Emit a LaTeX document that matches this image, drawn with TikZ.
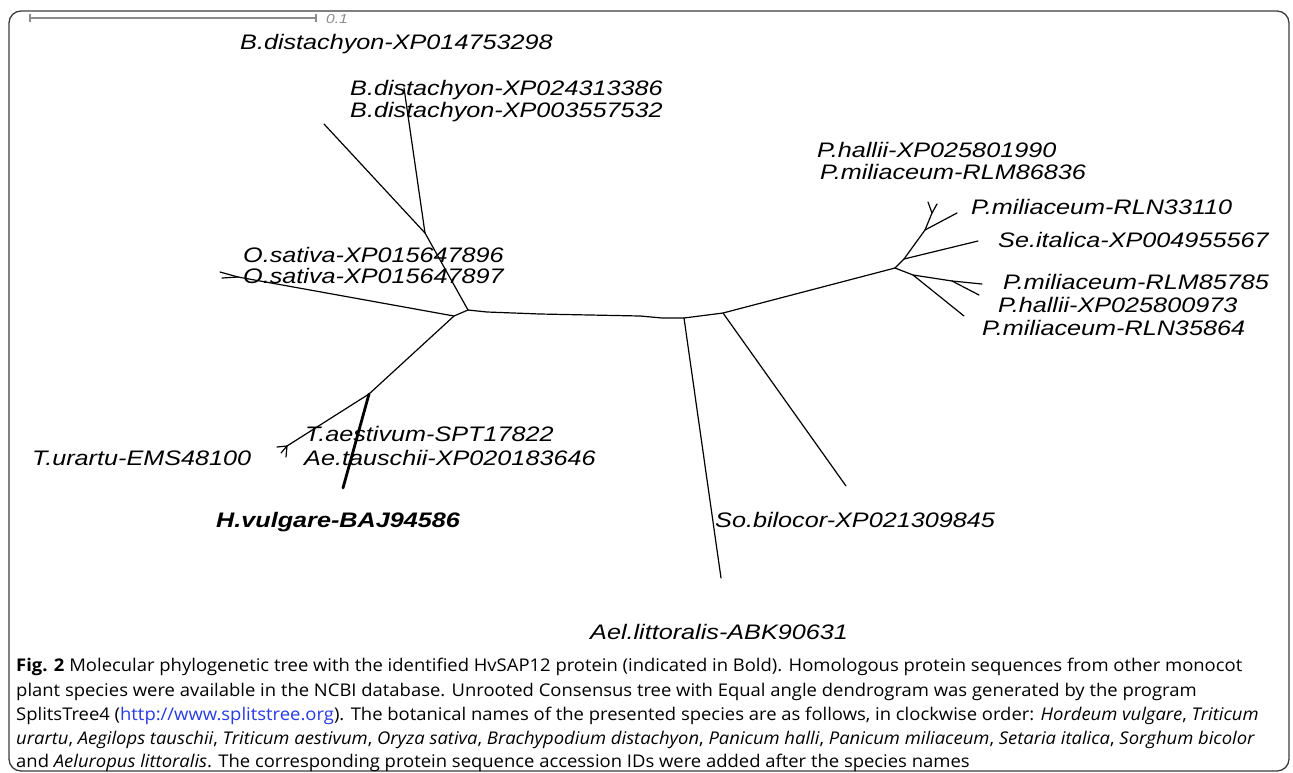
\documentclass[tikz,border=0pt]{standalone}
\usepackage{fontspec}
\usepackage{graphicx}
\setmainfont{Open Sans}
\newfontfamily\treefont[FakeStretch=1.2]{Liberation Sans}
\newfontfamily\capfont{Open Sans}
\definecolor{linkblue}{RGB}{40,60,230}
\definecolor{framegray}{RGB}{60,60,60}
\definecolor{bargray}{RGB}{140,140,140}
\newlength\capw
\newcommand{\capA}{\textbf{Fig. 2} Molecular phylogenetic tree with the identified HvSAP12 protein (indicated in Bold). Homologous protein sequences from other monocot}
\begin{document}
\settowidth\capw{\capfont\fontsize{17.5}{20}\selectfont\capA}%
\pgfmathsetmacro\capscale{1226/\the\capw}%
\begin{tikzpicture}[x=1pt,y=-1pt,
  branch/.style={line width=1.2pt,black,line cap=round},
  boldbranch/.style={line width=2.8pt,black,line cap=round},
  leaf/.style={anchor=mid west,inner sep=0pt,font=\treefont\itshape\fontsize{21}{22}\selectfont},
  boldleaf/.style={leaf,font=\treefont\bfseries\itshape\fontsize{21}{22}\selectfont},
  capline/.style={anchor=mid west,inner sep=0pt}]
\useasboundingbox (0,0) rectangle (1293,772);
\fill[white] (0,0) rectangle (1293,772);
% frame
\draw[framegray,line width=1.3pt,rounded corners=12pt] (9,11) rectangle (1289,771);
% scale bar
\coordinate (sb1) at (30,18);
\coordinate (sb2) at (316,18);
\draw[bargray,line width=1.1pt] (sb1) -- (sb2);
\draw[bargray,line width=1.1pt] ([yshift=-4pt]sb1) -- ([yshift=4pt]sb1);
\draw[bargray,line width=1.1pt] ([yshift=-4pt]sb2) -- ([yshift=4pt]sb2);
\node[anchor=mid west,inner sep=0pt,text=bargray,font=\treefont\itshape\fontsize{13}{14}\selectfont] (sbl) at (326,21) {0.1};
% junctions
\coordinate (J1) at (468,310);
\coordinate (J2) at (454,316);
\coordinate (JB) at (425,233);
\coordinate (B1) at (324,124);
\coordinate (B2) at (404,88);
\coordinate (JO) at (238,277);
\coordinate (O1) at (220,272);
\coordinate (O2) at (222,278);
\coordinate (JT) at (369,394);
\coordinate (JU) at (287,446);
\coordinate (U1) at (277,447);
\coordinate (U2) at (281,453);
\coordinate (U3) at (286,457);
\coordinate (HV) at (343,488);
\coordinate (R1) at (487,312);
\coordinate (R2) at (540,314);
\coordinate (R3) at (640,316);
\coordinate (R4) at (662,318);
\coordinate (JA) at (684,318);
\coordinate (JS) at (723,313);
\coordinate (JP) at (895,268);
\coordinate (AE) at (721,578);
\coordinate (SO) at (846,486);
\coordinate (JQ) at (904,259);
\coordinate (SE) at (978,241);
\coordinate (JR) at (925,230);
\coordinate (P33) at (957,213);
\coordinate (JK) at (932,213);
\coordinate (K1) at (928,202);
\coordinate (K2) at (937,204);
\coordinate (JF) at (913,275);
\coordinate (JE) at (952,281);
\coordinate (E1) at (982,284);
\coordinate (E2) at (979,295);
\coordinate (P64) at (964,316);
% branches
\draw[branch] (J1) -- (JB) -- (B1);
\draw[branch] (JB) -- (B2);
\draw[branch] (J1) -- (J2) -- (JO) -- (O1);
\draw[branch] (JO) -- (O2);
\draw[branch] (J2) -- (JT) -- (JU) -- (U1);
\draw[branch] (JU) -- (U2);
\draw[branch] (JU) -- (U3);
\draw[boldbranch] (JT) -- (HV);
\draw[branch] (J1) -- (R1) -- (R2) -- (R3) -- (R4) -- (JA) -- (JS) -- (JP);
\draw[branch] (JA) -- (AE);
\draw[branch] (JS) -- (SO);
\draw[branch] (JP) -- (JQ) -- (SE);
\draw[branch] (JQ) -- (JR) -- (P33);
\draw[branch] (JR) -- (JK) -- (K1);
\draw[branch] (JK) -- (K2);
\draw[branch] (JP) -- (JF) -- (JE) -- (E1);
\draw[branch] (JE) -- (E2);
\draw[branch] (JF) -- (P64);
% labels
\node[leaf] (lb1) at (240,47) {B.distachyon-XP014753298};
\node[leaf] (lb2) at (350,93) {B.distachyon-XP024313386};
\node[leaf] (lb3) at (350,115) {B.distachyon-XP003557532};
\node[leaf] (lo1) at (243,260) {O.sativa-XP015647896};
\node[leaf] (lo2) at (243,281) {O.sativa-XP015647897};
\node[leaf] (ltu) at (32,463) {T.urartu-EMS48100};
\node[leaf] (lta) at (305,439) {T.aestivum-SPT17822};
\node[leaf] (lat) at (304,463) {Ae.tauschii-XP020183646};
\node[boldleaf] (lhv) at (216,525) {H.vulgare-BAJ94586};
\node[leaf] (lae) at (590,637) {Ael.littoralis-ABK90631};
\node[leaf] (lso) at (715,525) {So.bilocor-XP021309845};
\node[leaf] (lph1) at (817,155) {P.hallii-XP025801990};
\node[leaf] (lpm1) at (820,177) {P.miliaceum-RLM86836};
\node[leaf] (lpm2) at (971,212) {P.miliaceum-RLN33110};
\node[leaf] (lse) at (998,245) {Se.italica-XP004955567};
\node[leaf] (lpm3) at (1003,287) {P.miliaceum-RLM85785};
\node[leaf] (lph2) at (998,310) {P.hallii-XP025800973};
\node[leaf] (lpm4) at (982,333) {P.miliaceum-RLN35864};
% caption
\begin{scope}[every node/.style={capline,font=\capfont\fontsize{17.5}{20}\selectfont}]
\node (c1) at (16,669) {\scalebox{\capscale}[1]{\capA}};
\node (c2) at (16,693.5) {\scalebox{\capscale}[1]{plant species were available in the NCBI database. Unrooted Consensus tree with Equal angle dendrogram was generated by the program}};
\node (c3) at (16,718) {\scalebox{\capscale}[1]{SplitsTree4 (\textcolor{linkblue}{http://www.splitstree.org}). The botanical names of the presented species are as follows, in clockwise order: \textit{Hordeum vulgare}, \textit{Triticum}}};
\node (c4) at (16,742) {\scalebox{\capscale}[1]{\textit{urartu}, \textit{Aegilops tauschii}, \textit{Triticum aestivum}, \textit{Oryza sativa}, \textit{Brachypodium distachyon}, \textit{Panicum halli}, \textit{Panicum miliaceum}, \textit{Setaria italica}, \textit{Sorghum bicolor}}};
\node (c5) at (16,765) {\scalebox{\capscale}[1]{and \textit{Aeluropus littoralis}. The corresponding protein sequence accession IDs were added after the species names}};
\end{scope}
\end{tikzpicture}
\end{document}
